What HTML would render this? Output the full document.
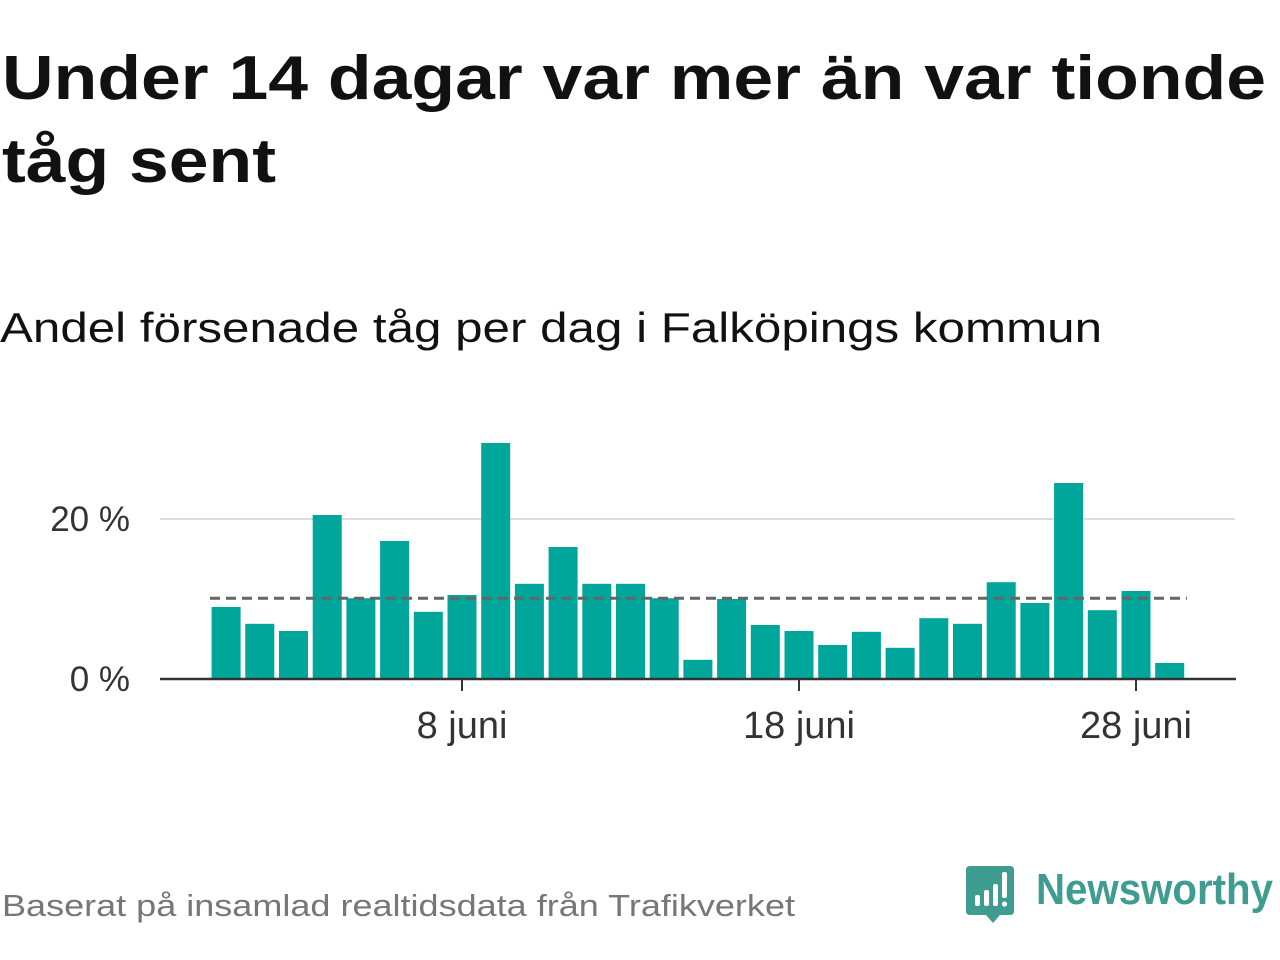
<!DOCTYPE html>
<html><head><meta charset="utf-8"><style>
body{margin:0;width:1280px;height:960px;background:#fff;font-family:"Liberation Sans",sans-serif;overflow:hidden;position:relative}
</style></head><body>
<svg width="1280" height="960" style="position:absolute;left:0;top:0">
<text x="2" y="99" font-size="62" font-weight="bold" fill="#111" textLength="1264" lengthAdjust="spacingAndGlyphs">Under 14 dagar var mer än var tionde</text>
<text x="2" y="182" font-size="62" font-weight="bold" fill="#111" textLength="274" lengthAdjust="spacingAndGlyphs">tåg sent</text>
<text x="0" y="342" font-size="42" fill="#111" textLength="1102" lengthAdjust="spacingAndGlyphs">Andel försenade tåg per dag i Falköpings kommun</text>
<g id="plot"></g>
<text x="2" y="916" font-size="31" fill="#777" textLength="793" lengthAdjust="spacingAndGlyphs">Baserat på insamlad realtidsdata från Trafikverket</text>
<g>
<path d="M970 866 H1010 Q1014 866 1014 870 V911 Q1014 915 1010 915 H1000 L993 923 L986 915 H970 Q966 915 966 911 V870 Q966 866 970 866Z" fill="#3f9c91"/>
<rect x="975" y="895" width="5" height="11" rx="2" fill="#fff"/>
<rect x="984" y="890" width="5" height="16" rx="2" fill="#fff"/>
<rect x="993" y="884" width="5" height="22" rx="2" fill="#fff"/>
<rect x="1002" y="872" width="5" height="26" rx="2" fill="#fff"/>
<circle cx="1004.5" cy="904" r="2.6" fill="#fff"/>
<text x="1036" y="904" font-size="44" font-weight="bold" fill="#3f9c91" textLength="237" lengthAdjust="spacingAndGlyphs">Newsworthy</text>
</g>
</svg>
<script>
const values=[9.0,6.9,6.0,20.5,10.1,17.25,8.4,10.5,29.5,11.9,16.5,11.9,11.9,10.1,2.4,10.0,6.75,6.0,4.25,5.9,3.9,7.6,6.9,12.1,9.5,24.5,8.6,11.0,2.0];
const days=[1,2,3,4,5,6,7,8,9,10,11,12,13,14,15,16,17,18,19,20,21,22,23,24,25,26,27,28,29];
const yTicks=[0,20];
const xTickDays=[8,18,28];
const xTickLabels=["8 juni","18 juni","28 juni"];
const average=[10.1];
const NS="http://www.w3.org/2000/svg";
const g=document.getElementById('plot');
const x=d=>462+(d-8)*33.7;
const y=v=>679-v*8;
function mk(t,a){const e=document.createElementNS(NS,t);for(const k in a)e.setAttribute(k,a[k]);g.appendChild(e);return e;}
yTicks.forEach(t=>{
 if(t>0){const l=mk('line',{x1:160,x2:1235,y1:y(t),y2:y(t),stroke:'#ddd','stroke-width':2});
 
 }
 const tx=mk('text',{x:130,y:y(t)+12,'font-size':35,fill:'#333','text-anchor':'end'});tx.textContent=t+' %';
 
 
});
values.forEach((v,i)=>{
 const r=mk('rect',{x:x(days[i])-14.5,y:y(v),width:29,height:v*8,fill:'#00a69a'});
 
 
});
const av=mk('line',{x1:210,x2:1187,y1:y(average[0]),y2:y(average[0]),stroke:'#666','stroke-width':3,'stroke-dasharray':'10 6'});


const ax=mk('line',{x1:160,x2:1236,y1:679,y2:679,stroke:'#333','stroke-width':2.5});


xTickDays.forEach((d,i)=>{
 const tk=mk('line',{x1:x(d),x2:x(d),y1:679,y2:691,stroke:'#333','stroke-width':2});
 
 
 const tx=mk('text',{x:x(d),y:738,'font-size':38,fill:'#333','text-anchor':'middle'});tx.textContent=xTickLabels[i];
 
 
});
</script>
</body></html>
